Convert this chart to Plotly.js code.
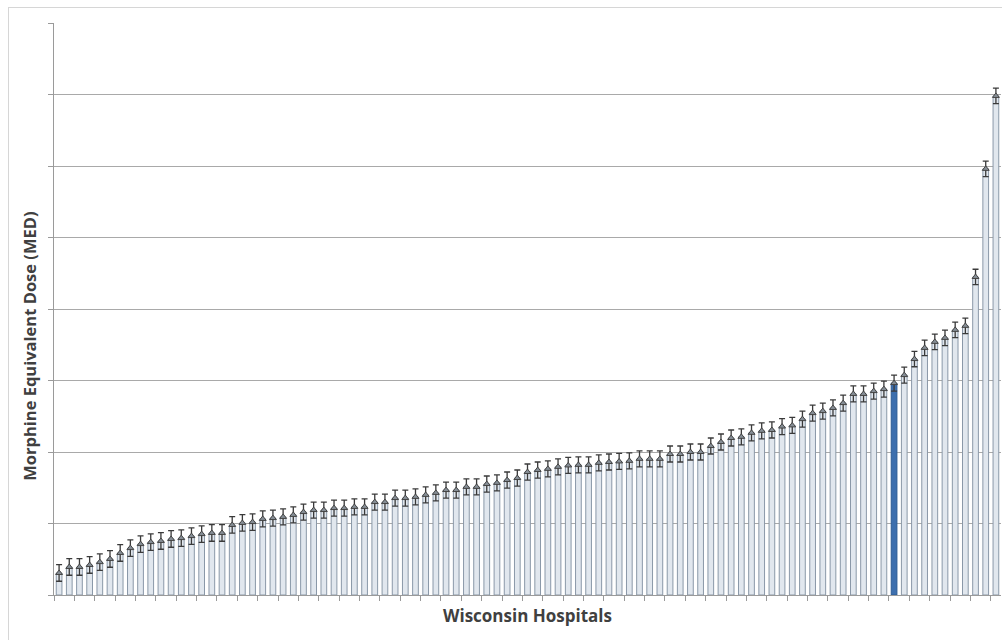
<!DOCTYPE html>
<html>
<head>
<meta charset="utf-8">
<script src="https://cdn.plot.ly/plotly-3.0.1.min.js"></script>
<style>
  html, body { margin: 0; padding: 0; background: #ffffff; }
  #wrap { position: relative; width: 1002px; height: 640px; overflow: hidden; }
  #chart { position: absolute; left: 0; top: 0; width: 1002px; height: 640px; }
  #frame { position: absolute; left: 8px; top: 7px; width: 1100px; height: 700px;
           border: 1px solid #d6d6d6; pointer-events: none; }
</style>
</head>
<body>
<div id="wrap">
  <div id="chart"></div>
  <div id="frame"></div>
</div>
<script>
// ---- data ----
var medValues = [
  7.7, 9.8, 9.8, 10.5, 11.5, 12.6, 14.7, 16.4, 17.8, 18.5,
  18.9, 19.6, 19.9, 20.6, 21.3, 21.7, 21.7, 24.5, 25.2, 25.5,
  26.6, 26.9, 27.3, 28.0, 29.0, 29.7, 29.7, 30.4, 30.4, 30.8,
  30.8, 32.5, 32.5, 33.9, 33.9, 34.3, 35.0, 35.7, 36.7, 36.7,
  37.8, 37.8, 38.8, 39.2, 40.2, 40.9, 43.0, 43.7, 44.1, 44.8,
  45.3, 45.5, 45.5, 46.2, 46.5, 46.7, 46.9, 47.6, 47.6, 47.6,
  49.3, 49.3, 50.0, 50.0, 52.1, 53.5, 54.9, 55.3, 56.7, 57.4,
  57.7, 58.9, 59.3, 61.5, 63.6, 64.3, 65.4, 67.1, 70.3, 70.3,
  71.3, 72.0, 74.1, 76.9, 82.5, 86.4, 88.5, 89.9, 92.7, 94.1,
  111.2, 149.0, 174.5
];
var medErrors = [
  2.9, 2.9, 2.9, 2.9, 2.9, 2.9, 2.9, 2.9, 2.9, 2.9,
  2.9, 2.9, 2.9, 2.9, 2.9, 2.9, 2.9, 2.9, 2.9, 2.9,
  2.8, 2.8, 2.8, 2.8, 2.8, 2.8, 2.8, 2.8, 2.8, 2.8,
  2.8, 2.8, 2.8, 2.8, 2.8, 2.8, 2.8, 2.8, 2.8, 2.8,
  2.8, 2.8, 2.8, 2.8, 2.8, 2.8, 2.8, 2.8, 2.8, 2.8,
  2.8, 2.8, 2.8, 2.8, 2.8, 2.8, 2.8, 2.8, 2.8, 2.8,
  2.8, 2.8, 2.8, 2.8, 2.8, 2.8, 2.8, 2.8, 2.8, 2.8,
  2.8, 2.8, 2.8, 2.8, 2.8, 2.8, 2.8, 2.8, 2.8, 2.8,
  2.8, 2.8, 2.8, 2.8, 2.7, 2.7, 2.7, 2.7, 2.7, 2.7,
  2.7, 2.7, 2.7
];
var hospitals = medValues.map(function (v, i) { return 'Hospital ' + (i + 1); });
var highlightIndex = 82;
var yTickStep = 25;
var yMax = 200;
var xAxisTitle = 'Wisconsin Hospitals';
var yAxisTitle = 'Morphine Equivalent Dose (MED)';

// ---- styles ----
var barFill = hospitals.map(function (h, i) { return i === highlightIndex ? '#3d6fae' : '#e1e7ee'; });
var barEdge = hospitals.map(function (h, i) { return i === highlightIndex ? '#2b5a94' : '#8a98a8'; });

var bars = {
  type: 'bar',
  x: hospitals,
  y: medValues,
  marker: { color: barFill, line: { color: barEdge, width: 1 } },
  error_y: { type: 'data', array: medErrors, visible: true, color: '#3a3a3a', thickness: 1.3, width: 3 },
  hoverinfo: 'x+y',
  showlegend: false
};
var tops = {
  type: 'scatter',
  mode: 'markers',
  x: hospitals,
  y: medValues,
  marker: { symbol: 'triangle-up', size: 6, color: '#868e96', line: { color: '#444444', width: 1 } },
  hoverinfo: 'skip',
  showlegend: false
};

var layout = {
  width: 1002,
  height: 640,
  margin: { l: 54, r: 1, t: 23, b: 45 },
  paper_bgcolor: 'rgba(0,0,0,0)',
  plot_bgcolor: '#ffffff',
  bargap: 0.44,
  font: { family: 'Open Sans, Lato, sans-serif', color: '#404040' },
  xaxis: {
    type: 'category',
    range: [-0.5, hospitals.length - 0.5],
    showticklabels: false,
    ticks: 'outside',
    tickson: 'boundaries',
    ticklen: 5,
    tickcolor: '#9a9a9a',
    showgrid: false,
    showline: true,
    linecolor: '#9a9a9a',
    linewidth: 1,
    title: { text: xAxisTitle, font: { size: 17, color: '#404040', weight: 'bold' }, standoff: 15 },
    automargin: false
  },
  yaxis: {
    range: [0, yMax],
    dtick: yTickStep,
    tick0: 0,
    showticklabels: false,
    ticks: 'outside',
    ticklen: 5,
    tickcolor: '#9a9a9a',
    showgrid: true,
    gridcolor: '#a9a9a9',
    gridwidth: 1,
    zeroline: false,
    showline: true,
    linecolor: '#9a9a9a',
    linewidth: 1,
    automargin: false
  },
  annotations: [{
    text: '<b>' + yAxisTitle + '</b>',
    xref: 'paper', yref: 'paper',
    x: -0.0253, y: 0.434,
    xanchor: 'center', yanchor: 'middle',
    textangle: -90,
    showarrow: false,
    font: { size: 16.5, color: '#404040', family: 'Open Sans, Lato, sans-serif' }
  }]
};

Plotly.newPlot('chart', [bars, tops], layout, { displayModeBar: false, staticPlot: true });
</script>
</body>
</html>
